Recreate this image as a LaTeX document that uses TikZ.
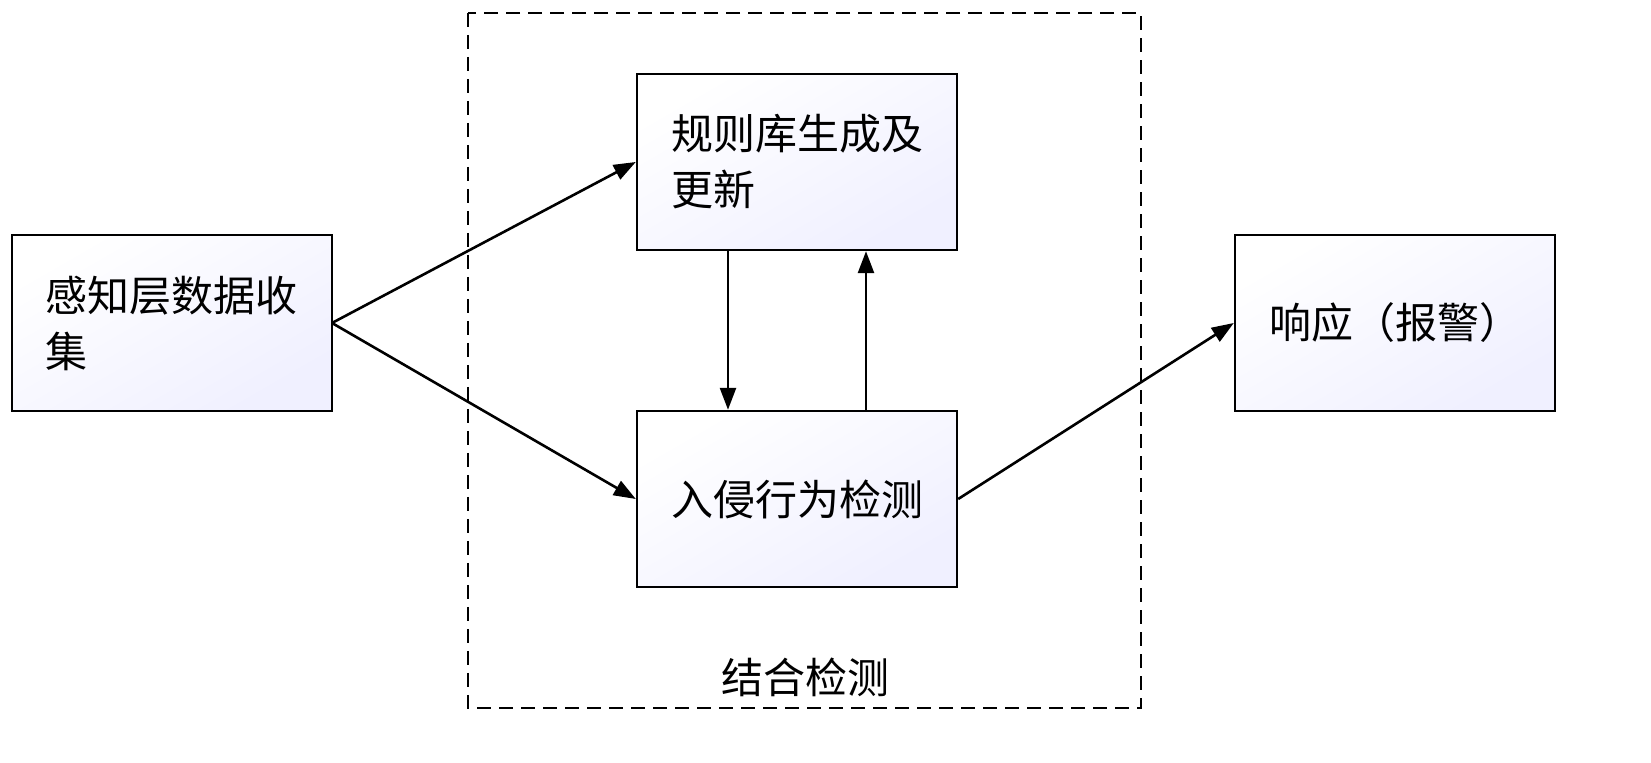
\documentclass[tikz,border=0pt]{standalone}
\usepackage{fontspec}
\newfontfamily\cjk{Noto Sans CJK SC}
\usetikzlibrary{arrows.meta}
\begin{document}
\begin{tikzpicture}[x=0.5pt,y=-0.5pt,
  box/.style={draw,line width=1.2pt,minimum width=160pt,minimum height=88pt,inner sep=0pt,
    top color=white,bottom color=blue!6,shading angle=30,font=\cjk\fontsize{21pt}{28pt}\selectfont,align=left},
  arr/.style={line width=1.3pt,-{Triangle[length=11pt,width=8pt]}}]
\useasboundingbox (0,0) rectangle (1651,763);
\fill[white] (0,0) rectangle (1651,763);
\draw[dashed,line width=1.2pt,dash pattern=on 7pt off 4pt] (468,13) rectangle (1141,708);
\node[font=\cjk\fontsize{21pt}{28pt}\selectfont] (lbl) at (805,677) {结合检测};
\node[box] (a) at (172,323) {感知层数据收\\集};
\node[box] (b) at (797,162) {规则库生成及\\更新};
\node[box] (c) at (797,499) {入侵行为检测};
\node[box] (d) at (1395,323) {响应（报警）};
\coordinate (s) at (332,323);
\draw[arr] (s) -- (b.west);
\draw[arr] (s) -- (c.west);
\draw[arr] (b.south -| 728,0) -- (c.north -| 728,0);
\draw[arr] (c.north -| 866,0) -- (b.south -| 866,0);
\draw[arr] (c.east) -- (d.west);
\end{tikzpicture}
\end{document}
